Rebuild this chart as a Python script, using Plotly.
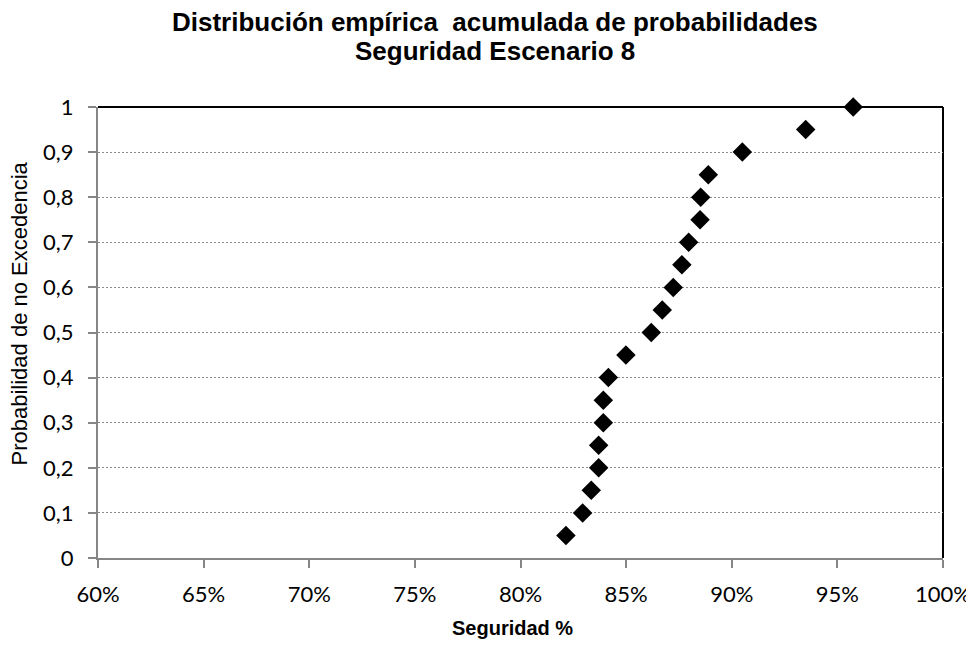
import plotly.graph_objects as go

seguridad = [82.15, 82.94, 83.35, 83.70, 83.70, 83.92, 83.92, 84.16, 84.99, 86.19,
             86.71, 87.23, 87.64, 87.96, 88.50, 88.53, 88.89, 90.50, 93.50, 95.75]
probabilidad = [0.05, 0.10, 0.15, 0.20, 0.25, 0.30, 0.35, 0.40, 0.45, 0.50,
                0.55, 0.60, 0.65, 0.70, 0.75, 0.80, 0.85, 0.90, 0.95, 1.00]

x_tickvals = [60, 65, 70, 75, 80, 85, 90, 95, 100]
x_ticktext = ["60%", "65%", "70%", "75%", "80%", "85%", "90%", "95%", "100%"]
y_tickvals = [0, 0.1, 0.2, 0.3, 0.4, 0.5, 0.6, 0.7, 0.8, 0.9, 1]
y_ticktext = ["0", "0,1", "0,2", "0,3", "0,4", "0,5", "0,6", "0,7", "0,8", "0,9", "1"]

title_line1 = "Distribución empírica  acumulada de probabilidades"
title_line2 = "Seguridad Escenario 8"
x_title = "Seguridad %"
y_title = "Probabilidad de no Excedencia"

fig = go.Figure()
fig.add_trace(go.Scatter(
    x=seguridad, y=probabilidad, mode="markers",
    marker=dict(symbol="diamond", size=15, color="black", line=dict(width=0)),
    cliponaxis=False, showlegend=False,
))

tick_font = dict(family="Lato, Open Sans, sans-serif", size=22, color="black")
title_font = dict(family="Liberation Sans, Arial", size=26, color="black", weight="bold")

fig.update_layout(
    width=966, height=638,
    margin=dict(l=90, r=31, t=99, b=88, autoexpand=False),
    paper_bgcolor="white", plot_bgcolor="white",
    xaxis=dict(
        range=[60, 100], tickvals=x_tickvals, ticktext=x_ticktext,
        showgrid=False, zeroline=False, automargin=False,
        showline=True, linecolor="#868686", linewidth=2,
        ticks="outside", ticklen=8, tickcolor="#868686", tickwidth=1.5,
        ticklabelstandoff=8,
        tickfont=tick_font,
    ),
    yaxis=dict(
        range=[0, 1], tickvals=y_tickvals, ticktext=y_ticktext,
        showgrid=True, gridcolor="#8c8c8c", gridwidth=1, griddash="2px,2px",
        zeroline=False, automargin=False,
        showline=True, linecolor="#868686", linewidth=2,
        ticks="outside", ticklen=8, tickcolor="#868686", tickwidth=1.5,
        ticklabelstandoff=10,
        tickfont=tick_font,
    ),
    shapes=[
        dict(type="line", xref="paper", yref="paper", x0=0, x1=1, y0=1, y1=1,
             line=dict(color="black", width=2), layer="below"),
        dict(type="line", xref="paper", yref="paper", x0=1, x1=1, y0=0, y1=1,
             line=dict(color="black", width=2), layer="below"),
    ],
    annotations=[
        dict(text=title_line1, xref="paper", yref="paper", x=0.47, y=1.1885,
             xanchor="center", yanchor="middle", showarrow=False, font=title_font),
        dict(text=title_line2, xref="paper", yref="paper", x=0.47, y=1.124,
             xanchor="center", yanchor="middle", showarrow=False, font=title_font),
        dict(text=x_title, xref="paper", yref="paper", x=0.49, y=-0.155,
             xanchor="center", yanchor="middle", showarrow=False,
             font=dict(family="Liberation Sans, Arial", size=20, color="black", weight="bold")),
        dict(text=y_title, xref="paper", yref="paper", x=-0.093, y=0.543,
             xanchor="center", yanchor="middle", showarrow=False, textangle=-90,
             font=dict(family="Liberation Sans, Arial", size=22, color="black")),
    ],
)

fig.write_html("out.html")
